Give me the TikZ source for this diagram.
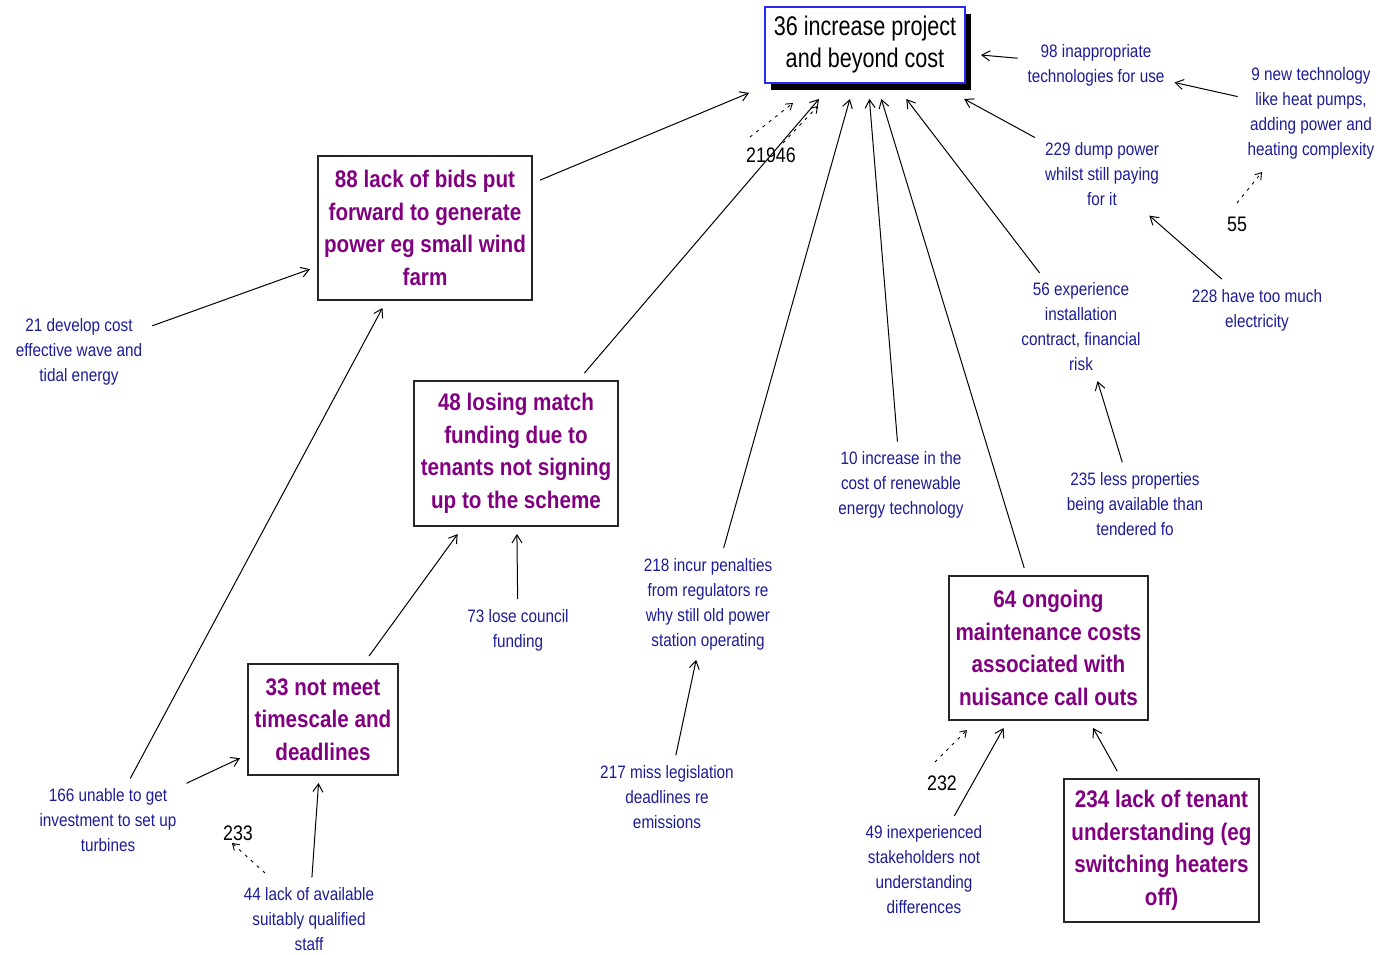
\documentclass[tikz,border=0pt]{standalone}
\usepackage{fontspec}
\setmainfont{Liberation Sans}
\newfontfamily\labfont[FakeStretch=0.85]{Liberation Sans}
\newfontfamily\boxfont[FakeStretch=0.86]{Liberation Sans}
\newfontfamily\mainfont[FakeStretch=0.8]{Liberation Sans}
\usetikzlibrary{arrows.meta,shadows}
\definecolor{navy}{RGB}{28,28,150}
\definecolor{purp}{RGB}{128,0,128}
\definecolor{bordblue}{RGB}{40,40,250}
\tikzset{
  lab/.style={font=\labfont\fontsize{18}{25}\selectfont, text=navy, align=center, inner sep=2pt, outer sep=8pt},
  pbox/.style={draw=black!85, line width=1.3pt, font=\boxfont\bfseries\fontsize{24}{32.5}\selectfont, text=purp, align=center, inner sep=2pt, outer sep=8pt},
  numlab/.style={font=\labfont\fontsize{21}{24}\selectfont, text=black, inner sep=1pt},
  arr/.style={-{Straight Barb[length=8pt,width=10pt]}, line width=1pt},
  darr/.style={-{Straight Barb[length=6pt,width=8pt]}, line width=0.9pt, dash pattern=on 3pt off 5pt},
}
\begin{document}
\begin{tikzpicture}[x=1pt,y=-1pt]
\useasboundingbox (0,0) rectangle (1377,954);
% central node
\node[draw=bordblue, line width=1.5pt, fill=white, minimum width=200pt, minimum height=76pt,
      drop shadow={shadow xshift=6pt, shadow yshift=-7pt, fill=black, opacity=1},
      font=\mainfont\fontsize{27}{32}\selectfont, align=center, inner sep=2pt, outer sep=16pt] (n36) at (865,45) {36 increase project\\and beyond cost};

% boxes
\node[pbox, minimum width=214pt, minimum height=144pt] (n88) at (425,228) {88 lack of bids put\\forward to generate\\power eg small wind\\farm};
\node[pbox, minimum width=204pt, minimum height=145pt] (n48) at (516,453.5) {48 losing match\\funding due to\\tenants not signing\\up to the scheme};
\node[pbox, minimum width=150pt, minimum height=111pt] (n33) at (323,719.5) {33 not meet\\timescale and\\deadlines};
\node[pbox, minimum width=199pt, minimum height=144pt] (n64) at (1048.5,648) {64 ongoing\\maintenance costs\\associated with\\nuisance call outs};
\node[pbox, minimum width=195pt, minimum height=143pt] (n234) at (1161.5,850.5) {234 lack of tenant\\understanding (eg\\switching heaters\\off)};

% labels
\node[lab] (n98) at (1096,65) {98 inappropriate\\technologies for use};
\node[lab] (n9) at (1311,113) {9 new technology\\like heat pumps,\\adding power and\\heating complexity};
\node[lab] (n229) at (1102,174) {229 dump power\\whilst still paying\\for it};
\node[lab] (n228) at (1257,310) {228 have too much\\electricity};
\node[lab] (n56) at (1081,327) {56 experience\\installation\\contract, financial\\risk};
\node[lab] (n235) at (1135,504) {235 less properties\\being available than\\tendered fo};
\node[lab] (n10) at (901,485) {10 increase in the\\cost of renewable\\energy technology};
\node[lab] (n218) at (708,604) {218 incur penalties\\from regulators re\\why still old power\\station operating};
\node[lab] (n217) at (667,797) {217 miss legislation\\deadlines re\\emissions};
\node[lab] (n73) at (518,630) {73 lose council\\funding};
\node[lab] (n21) at (79,352) {21 develop cost\\effective wave and\\tidal energy};
\node[lab] (n166) at (108,820) {166 unable to get\\investment to set up\\turbines};
\node[lab] (n44) at (309,919) {44 lack of available\\suitably qualified\\staff};
\node[lab] (n49) at (924,870) {49 inexperienced\\stakeholders not\\understanding\\differences};

% number labels
\node[numlab] (l55) at (1237,224) {55};
\node[numlab] (l233) at (238,833) {233};
\node[numlab] (l232) at (942,783) {232};
\node[numlab] (l21946) at (771,155) {21946};

% connectors
\draw[arr] (n98) -- (n36);
\draw[arr] (n9) -- (n98);
\draw[arr] (n229) -- (n36);
\draw[arr] (n228) -- (n229);
\draw[arr] (n56) -- (n36);
\draw[arr] (n235) -- (n56);
\draw[arr] (n10) -- (n36);
\draw[arr] (n64) -- (n36);
\draw[arr] (n218) -- (n36);
\draw[arr] (n217) -- (n218);
\draw[arr] (n48) -- (n36);
\draw[arr] (n88) -- (n36);
\draw[arr] (n21) -- (n88);
\draw[arr] (n166) -- (n88);
\draw[arr] (n166) -- (n33);
\draw[arr] (n33) -- (n48);
\draw[arr] (n73) -- (n48);
\draw[arr] (n44) -- (n33);
\draw[arr] (n49) -- (n64);
\draw[arr] (n234) -- (n64);

% dashed links
\coordinate (d55) at (1262,172);
\coordinate (s55) at (1237,203);
\draw[darr] (s55) -- (d55);
\coordinate (s233) at (265,873);
\coordinate (d233) at (232,843);
\draw[darr] (s233) -- (d233);
\coordinate (s232) at (935,762);
\coordinate (d232) at (967,730);
\draw[darr] (s232) -- (d232);
\coordinate (s219a) at (750,137);
\coordinate (d219a) at (793,103);
\draw[darr] (s219a) -- (d219a);
\coordinate (s219b) at (783,143);
\coordinate (d219b) at (818,106);
\draw[darr] (s219b) -- (d219b);
\end{tikzpicture}
\end{document}
